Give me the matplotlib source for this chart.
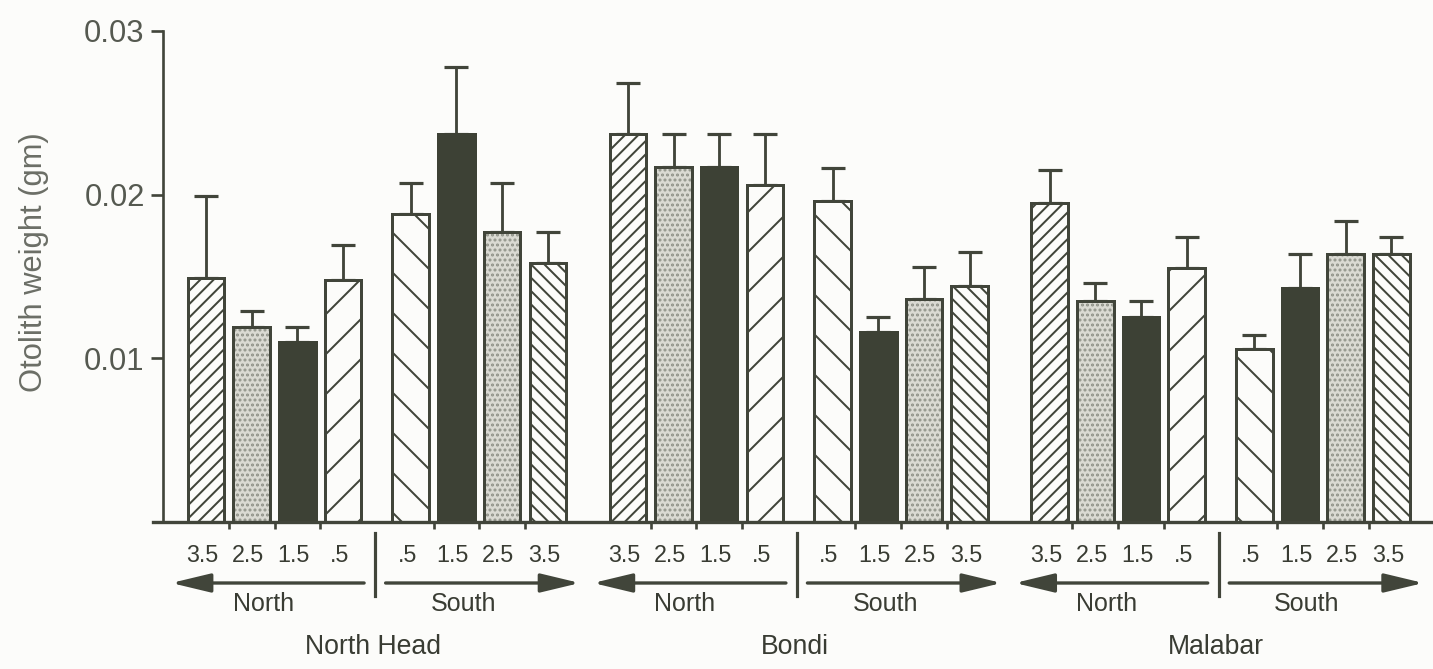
import matplotlib
matplotlib.use("Agg")
import matplotlib.pyplot as plt
import numpy as np

plt.rcParams['font.family'] = ['Liberation Sans', 'DejaVu Sans']
plt.rcParams['hatch.linewidth'] = 1.2

# ---------------- data ----------------
sites = ["North Head", "Bondi", "Malabar"]
north_labels = ["3.5", "2.5", "1.5", ".5"]
south_labels = [".5", "1.5", "2.5", "3.5"]

nh_mean = [0.0149, 0.0119, 0.0110, 0.0148, 0.0188, 0.0237, 0.0177, 0.0158]
nh_err = [0.0050, 0.0010, 0.0009, 0.0021, 0.0019, 0.0041, 0.0030, 0.0019]
bondi_mean = [0.0237, 0.0217, 0.0217, 0.0206, 0.0196, 0.0116, 0.0136, 0.0144]
bondi_err = [0.0031, 0.0020, 0.0020, 0.0031, 0.0020, 0.0009, 0.0020, 0.0021]
malabar_mean = [0.0195, 0.0135, 0.0125, 0.0155, 0.0106, 0.0143, 0.0164, 0.0164]
malabar_err = [0.0020, 0.0011, 0.0010, 0.0019, 0.0008, 0.0021, 0.0020, 0.0010]

means = [nh_mean, bondi_mean, malabar_mean]
errs = [nh_err, bondi_err, malabar_err]

# bar fill style per position within a site (north 3.5 .. .5, south .5 .. 3.5)
styles = ['dense_fwd', 'stipple', 'dark', 'wide_fwd', 'wide_back', 'dark', 'stipple', 'dense_back']

# ---------------- layout ----------------
INK = '#41453a'
DARK = '#3d4135'
TXT = '#393c33'
BG = '#fcfcfa'
site_step = 9.23
south_off = 4.48
bar_w = 0.80
LW = 1.8

fig = plt.figure(figsize=(1433 / 120, 669 / 120), dpi=120, facecolor=BG)
ax = fig.add_axes([153 / 1433, 147 / 669, 1280 / 1433, 491 / 669])
ax.set_facecolor(BG)

def positions(site):
    base = site * site_step
    return [base + i for i in range(4)] + [base + south_off + i for i in range(4)]

for s in range(len(sites)):
    xs = positions(s)
    for x, m, st in zip(xs, means[s], styles):
        if st == 'dark':
            ax.bar(x, m, width=bar_w, color=DARK, edgecolor=DARK, linewidth=LW, zorder=2)
        elif st == 'stipple':
            ax.bar(x, m, width=bar_w, color='#dadad3', edgecolor='#8f9288', linewidth=0,
                   hatch='....', zorder=2)
            ax.bar(x, m, width=bar_w, fill=False, edgecolor=INK, linewidth=LW, zorder=3)
        else:
            h = {'dense_fwd': '///', 'wide_fwd': '/', 'wide_back': '\\',
                 'dense_back': '\\\\\\'}[st]
            ax.bar(x, m, width=bar_w, color=BG, edgecolor=INK, linewidth=LW,
                   hatch=h, zorder=2)
    ax.errorbar(xs, means[s], yerr=[np.zeros(8), errs[s]], fmt='none',
                ecolor=INK, elinewidth=1.7, capsize=7, capthick=1.9, zorder=1)

# axes styling
x_left = (153 - 206) / 45.7
x_right = (1433 - 206) / 45.7
ax.set_xlim(x_left, x_right)
ax.set_ylim(0, 0.03)
for sp in ['top', 'right']:
    ax.spines[sp].set_visible(False)
ax.spines['left'].set_position(('data', (163 - 206) / 45.7))
ax.spines['left'].set_color(INK)
ax.spines['left'].set_linewidth(1.6)
ax.spines['bottom'].set_color(INK)
ax.spines['bottom'].set_linewidth(2.0)

ax.set_yticks([0.01, 0.02, 0.03])
ax.set_yticklabels(["0.01", "0.02", "0.03"])
ax.tick_params(axis='y', length=7, width=1.6, color=INK, pad=4,
               labelsize=18.5, labelcolor='#555950')

xt = []
for s in range(len(sites)):
    xs = positions(s)
    xt += [xs[0] + 0.5, xs[1] + 0.5, xs[2] + 0.5, xs[4] + 0.5, xs[5] + 0.5, xs[6] + 0.5]
ax.set_xticks(xt)
ax.set_xticklabels([])
ax.tick_params(axis='x', length=4, width=1.6, color=INK, direction='out')

# annotations below the axis
tr = ax.get_xaxis_transform()
y_num = (522 - 555) / 491
y_arr = (522 - 583) / 491
y_dir = (522 - 604) / 491
y_site = (522 - 647) / 491
y_sep0 = (522 - 533) / 491
y_sep1 = (522 - 596) / 491

for s, name in enumerate(sites):
    xs = positions(s)
    base = s * site_step
    for x, lab in zip(xs, north_labels + south_labels):
        ax.text(x - 0.08, y_num, lab, transform=tr, ha='center', va='center',
                fontsize=14, color=TXT)
    # separator
    ax.plot([base + 3.7, base + 3.7], [y_sep0, y_sep1], transform=tr, color=INK,
            lw=1.9, clip_on=False)
    arrow_kw = dict(arrowstyle='-|>,head_length=1.0,head_width=0.24', color=INK,
                    lw=2.0, shrinkA=0, shrinkB=0, mutation_scale=20)
    ax.annotate('', xy=(base - 0.76, y_arr), xytext=(base + 3.46, y_arr),
                xycoords=tr, textcoords=tr, arrowprops=arrow_kw, annotation_clip=False)
    ax.annotate('', xy=(base + south_off + 3.7, y_arr), xytext=(base + south_off - 0.55, y_arr),
                xycoords=tr, textcoords=tr, arrowprops=arrow_kw, annotation_clip=False)
    ax.text(base + 1.25, y_dir, "North", transform=tr, ha='center', va='center',
            fontsize=15, color=TXT)
    ax.text(base + south_off + 1.15, y_dir, "South", transform=tr, ha='center', va='center',
            fontsize=15, color=TXT)
    ax.text(base + 3.65, y_site, name, transform=tr, ha='center', va='center',
            fontsize=16, color=TXT)

fig.text(34 / 1433, 1 - 262 / 669, "Otolith weight (gm)", rotation=90,
         ha='center', va='center', fontsize=18.5, color='#6b6e66')

fig.savefig("out.png", dpi=120, facecolor=BG)
